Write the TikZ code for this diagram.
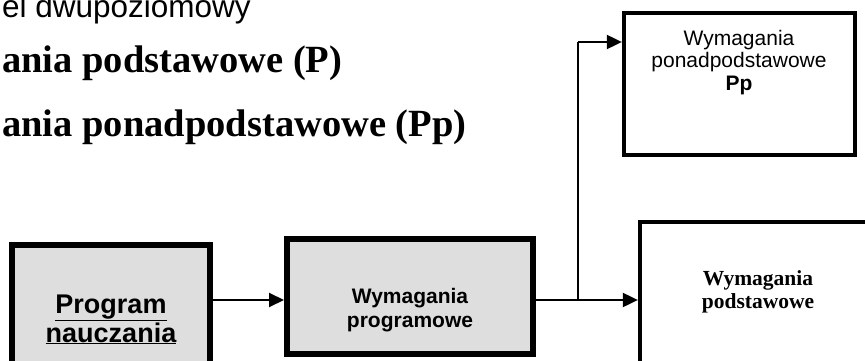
\documentclass[tikz,border=0pt]{standalone}
\usepackage{fontspec}
\setmainfont{Liberation Serif}
\setsansfont{Liberation Sans}
\usetikzlibrary{arrows.meta,positioning}

\begin{document}
\begin{tikzpicture}[x=1pt,y=-1pt,
        greybox/.style={draw,fill=black!13,line width=6pt,inner sep=0pt},
        whitebox/.style={draw,fill=white,line width=4.3pt,inner sep=0pt},
        wire/.style={line width=2pt},
        arr/.style={wire,-{Triangle[length=15pt,width=14pt]}},
        boxtext/.style={align=center,inner sep=0pt,anchor=base},
        headline/.style={anchor=base west,inner sep=0pt}]
            \clip (0,0) rectangle (865,361);

            \node[headline,font=\sffamily\fontsize{31.5}{36}\selectfont] (model) at (2,17.5) {el dwupoziomowy};
            \node[headline,font=\bfseries\fontsize{38.5}{44}\selectfont] (levelP) at (2,72.7) {ania podstawowe (P)};
            \node[headline,font=\bfseries\fontsize{38.5}{44}\selectfont] (levelPp) at (2,136.7) {ania ponadpodstawowe (Pp)};

            \node[greybox,minimum width=198,minimum height=154] (prog) at (111,322) {};
            \node[greybox,minimum width=246,minimum height=115] (wym) at (410,296.5) {};
            \node[whitebox,minimum width=231,minimum height=142] (pp) at (739.5,84) {};
            \node[whitebox,minimum width=236,minimum height=180] (pod) at (758,312) {};

            \node[boxtext,font=\sffamily\bfseries\fontsize{27}{29}\selectfont] (progtxt) at (111,342) {\underline{Program}\\\underline{nauczania}};
            \node[boxtext,font=\sffamily\bfseries\fontsize{21}{24}\selectfont] (wymtxt) at (410,327) {Wymagania\\programowe};
            \node[boxtext,font=\sffamily\fontsize{21}{22}\selectfont] (pptxt) at (739,90) {Wymagania\\ponadpodstawowe\\\textbf{Pp}};
            \node[boxtext,font=\bfseries\fontsize{21.5}{23}\selectfont] (podtxt) at (758,308) {Wymagania\\podstawowe};

            \coordinate (split) at (578,300);
            \coordinate (bend) at (578,42);

            \draw[arr] (prog.east |- split) -- (wym.west |- split);
            \draw[wire] (wym.east |- split) -- (split) -- (bend);
            \draw[arr] (bend) -- (pp.west |- bend);
            \draw[arr] (split) -- (pod.west |- split);
        \end{tikzpicture}
\end{document}
